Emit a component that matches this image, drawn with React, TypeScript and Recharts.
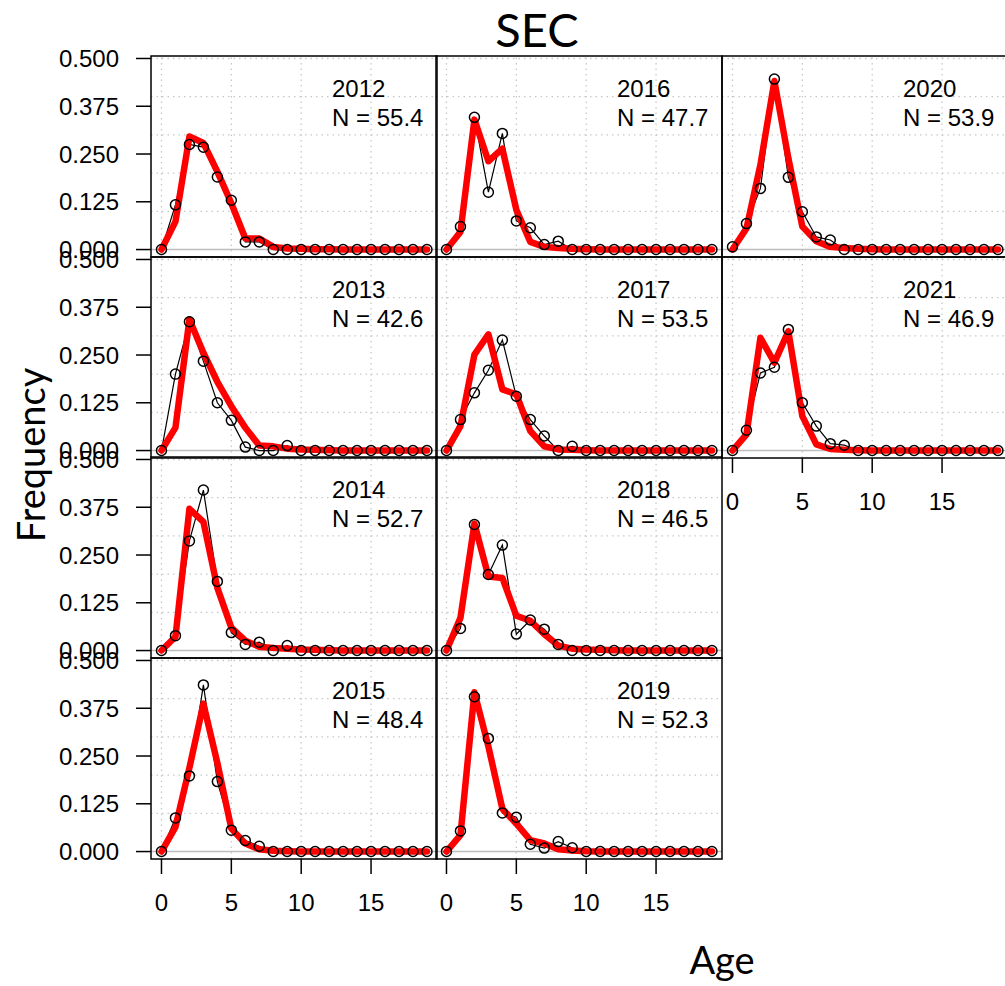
import { LineChart, Line, XAxis, YAxis, ReferenceLine } from 'recharts';

const AGES = [0, 1, 2, 3, 4, 5, 6, 7, 8, 9, 10, 11, 12, 13, 14, 15, 16, 17, 18, 19];
const X_TICKS = [0, 5, 10, 15];
const Y_TICKS = [0, 0.125, 0.25, 0.375, 0.5];
const GRID_Y = [0.1, 0.2, 0.3, 0.4, 0.5];

const YEARS = [2012, 2013, 2014, 2015, 2016, 2017, 2018, 2019, 2020, 2021];
const N_VALUES = [55.4, 42.6, 52.7, 48.4, 47.7, 53.5, 46.5, 52.3, 53.9, 46.9];

// observed proportions at age (black circles)
const OBS_2012 = [0, 0.117, 0.275, 0.268, 0.19, 0.129, 0.02, 0.02, 0, 0, 0, 0, 0, 0, 0, 0, 0, 0, 0, 0];
const OBS_2013 = [0, 0.2, 0.337, 0.234, 0.125, 0.079, 0.009, 0, 0, 0.013, 0, 0, 0, 0, 0, 0, 0, 0, 0, 0];
const OBS_2014 = [0, 0.039, 0.287, 0.42, 0.181, 0.047, 0.016, 0.022, 0, 0.013, 0, 0, 0, 0, 0, 0, 0, 0, 0, 0];
const OBS_2015 = [0, 0.088, 0.198, 0.436, 0.183, 0.056, 0.029, 0.014, 0, 0, 0, 0, 0, 0, 0, 0, 0, 0, 0, 0];
const OBS_2016 = [0, 0.06, 0.346, 0.15, 0.304, 0.075, 0.057, 0.013, 0.022, 0, 0, 0, 0, 0, 0, 0, 0, 0, 0, 0];
const OBS_2017 = [0, 0.081, 0.151, 0.21, 0.289, 0.142, 0.081, 0.038, 0, 0.011, 0, 0, 0, 0, 0, 0, 0, 0, 0, 0];
const OBS_2018 = [0, 0.058, 0.33, 0.199, 0.276, 0.043, 0.08, 0.056, 0.016, 0, 0, 0, 0, 0, 0, 0, 0, 0, 0, 0];
const OBS_2019 = [0, 0.054, 0.405, 0.296, 0.101, 0.09, 0.019, 0.009, 0.026, 0.01, 0, 0, 0, 0, 0, 0, 0, 0, 0, 0];
const OBS_2020 = [0.007, 0.068, 0.16, 0.446, 0.189, 0.099, 0.033, 0.025, 0, 0, 0, 0, 0, 0, 0, 0, 0, 0, 0, 0];
const OBS_2021 = [0, 0.053, 0.203, 0.218, 0.317, 0.125, 0.064, 0.018, 0.014, 0, 0, 0, 0, 0, 0, 0, 0, 0, 0, 0];

// expected proportions (red line)
const EXP_2012 = [0, 0.073, 0.296, 0.279, 0.204, 0.121, 0.029, 0.029, 0.007, 0.003, 0.002, 0.001, 0.001, 0, 0, 0, 0, 0, 0, 0];
const EXP_2013 = [0, 0.06, 0.343, 0.256, 0.18, 0.116, 0.06, 0.013, 0.011, 0.005, 0.003, 0.002, 0.001, 0, 0, 0, 0, 0, 0, 0];
const EXP_2014 = [0, 0.036, 0.371, 0.337, 0.164, 0.06, 0.026, 0.01, 0.007, 0.005, 0.003, 0.002, 0.001, 0, 0, 0, 0, 0, 0, 0];
const EXP_2015 = [0, 0.064, 0.219, 0.387, 0.232, 0.06, 0.021, 0.006, 0.002, 0.001, 0, 0, 0, 0, 0, 0, 0, 0, 0, 0];
const EXP_2016 = [0, 0.046, 0.34, 0.231, 0.264, 0.104, 0.02, 0.007, 0.004, 0.002, 0.001, 0, 0, 0, 0, 0, 0, 0, 0, 0];
const EXP_2017 = [0, 0.064, 0.251, 0.304, 0.16, 0.147, 0.051, 0.011, 0.003, 0.002, 0.001, 0, 0, 0, 0, 0, 0, 0, 0, 0];
const EXP_2018 = [0, 0.086, 0.332, 0.194, 0.19, 0.091, 0.078, 0.043, 0.013, 0.005, 0.003, 0.002, 0.001, 0, 0, 0, 0, 0, 0, 0];
const EXP_2019 = [0, 0.043, 0.417, 0.275, 0.112, 0.073, 0.03, 0.021, 0.006, 0.003, 0.001, 0, 0, 0, 0, 0, 0, 0, 0, 0];
const EXP_2020 = [0, 0.055, 0.222, 0.441, 0.239, 0.06, 0.022, 0.007, 0.004, 0.002, 0.001, 0, 0, 0, 0, 0, 0, 0, 0, 0];
const EXP_2021 = [0, 0.042, 0.295, 0.23, 0.312, 0.09, 0.016, 0.004, 0.002, 0.001, 0, 0, 0, 0, 0, 0, 0, 0, 0, 0];

const OBS = [OBS_2012, OBS_2013, OBS_2014, OBS_2015, OBS_2016, OBS_2017, OBS_2018, OBS_2019, OBS_2020, OBS_2021];
const EXP = [EXP_2012, EXP_2013, EXP_2014, EXP_2015, EXP_2016, EXP_2017, EXP_2018, EXP_2019, EXP_2020, EXP_2021];

// layout (page pixels)
const COL_LEFT = [151, 436, 722];
const ROW_TOP = [56, 257, 457, 658];
const PANEL_W = 286;
const PANEL_H = 201;
const Y_AXIS_W = 151;
const X_AXIS_H = 70;
const PAD = 16; // room so tick labels at the panel edges are not clipped
const X_DOMAIN = [-0.75, 19.72];
const Y_DOMAIN = [-0.0195, 0.5065];

const AXIS_FONT = '"Liberation Sans", Arial, sans-serif';
const LABEL_FONT = 'Lato, "Open Sans", sans-serif';

const panels = YEARS.map((year, i) => ({
  year,
  n: N_VALUES[i],
  col: Math.floor(i / 4),
  row: i % 4,
  data: AGES.map((age, j) => ({ age, obs: OBS[i][j], exp: EXP[i][j] })),
}));

type PanelInfo = (typeof panels)[number];

function Panel({ p }: { p: PanelInfo }) {
  const showY = p.col === 0;
  const showX = (p.col < 2 && p.row === 3) || (p.col === 2 && p.row === 1);
  const left = COL_LEFT[p.col] - (showY ? Y_AXIS_W : 0);
  const bottomPad = showX ? 0 : PAD;
  const tickStyle = { fill: '#000', fontSize: 24, fontFamily: AXIS_FONT };

  return (
    <div style={{ position: 'absolute', left, top: ROW_TOP[p.row] - PAD }}>
      <LineChart
        width={PANEL_W + (showY ? Y_AXIS_W : 0)}
        height={PANEL_H + PAD + bottomPad + (showX ? X_AXIS_H : 0)}
        data={p.data}
        margin={{ top: PAD, right: 0, bottom: bottomPad, left: 0 }}
      >
        <XAxis
          dataKey="age"
          type="number"
          domain={X_DOMAIN}
          ticks={X_TICKS}
          interval={0}
          allowDataOverflow
          hide={!showX}
          height={X_AXIS_H}
          axisLine={false}
          tickSize={15}
          tickMargin={20}
          tickLine={{ stroke: '#000', strokeWidth: 1.5 }}
          tick={tickStyle}
        />
        <YAxis
          type="number"
          domain={Y_DOMAIN}
          ticks={Y_TICKS}
          interval={0}
          allowDataOverflow
          hide={!showY}
          width={Y_AXIS_W}
          axisLine={false}
          tickSize={15}
          tickMargin={17}
          tickLine={{ stroke: '#000', strokeWidth: 1.5 }}
          tick={tickStyle}
          tickFormatter={(v: number) => v.toFixed(3)}
        />
        {X_TICKS.map((x) => (
          <ReferenceLine key={`gx-${x}`} x={x} stroke="#c8c8c8" strokeWidth={1.3} strokeDasharray="1.5 4" />
        ))}
        {GRID_Y.map((y) => (
          <ReferenceLine key={`gy-${y}`} y={y} stroke="#c8c8c8" strokeWidth={1.3} strokeDasharray="1.5 4" />
        ))}
        <ReferenceLine y={0} stroke="#bdbdbd" strokeWidth={1.5} />
        <Line
          dataKey="obs"
          type="linear"
          stroke="#000"
          strokeWidth={1.2}
          dot={{ r: 5, stroke: '#000', strokeWidth: 1.5, fill: 'none' }}
          activeDot={false}
          isAnimationActive={false}
        />
        <Line
          dataKey="exp"
          type="linear"
          stroke="#ff0000"
          strokeWidth={6.5}
          strokeLinejoin="round"
          strokeLinecap="round"
          dot={false}
          activeDot={false}
          isAnimationActive={false}
        />
      </LineChart>
    </div>
  );
}

export default function App() {
  return (
    <div
      style={{
        position: 'absolute',
        left: 0,
        top: 0,
        width: 1005,
        height: 986,
        overflow: 'hidden',
        background: '#fff',
      }}
    >
      {panels.map((p) => (
        <Panel key={p.year} p={p} />
      ))}
      <svg
        width={1005}
        height={986}
        style={{ position: 'absolute', left: 0, top: 0, pointerEvents: 'none' }}
      >
        {panels.map((p) => (
          <g key={p.year}>
            <rect
              x={COL_LEFT[p.col]}
              y={ROW_TOP[p.row]}
              width={PANEL_W}
              height={PANEL_H}
              fill="none"
              stroke="#000"
              strokeWidth={1.5}
            />
            <text x={COL_LEFT[p.col] + 181} y={ROW_TOP[p.row] + 41} fontSize={24} fontFamily={AXIS_FONT} fill="#000">
              {p.year}
            </text>
            <text x={COL_LEFT[p.col] + 181} y={ROW_TOP[p.row] + 70} fontSize={24} fontFamily={AXIS_FONT} fill="#000">
              {`N = ${p.n.toFixed(1)}`}
            </text>
          </g>
        ))}
        <text x={537} y={47} textAnchor="middle" fontSize={47} fontFamily={LABEL_FONT} fill="#000">
          SEC
        </text>
        <text
          x={45}
          y={455}
          textAnchor="middle"
          fontSize={38}
          fontFamily={LABEL_FONT}
          fill="#000"
          transform="rotate(-90 45 455)"
        >
          Frequency
        </text>
        <text x={722} y={974} textAnchor="middle" fontSize={38} fontFamily={LABEL_FONT} fill="#000">
          Age
        </text>
      </svg>
    </div>
  );
}
